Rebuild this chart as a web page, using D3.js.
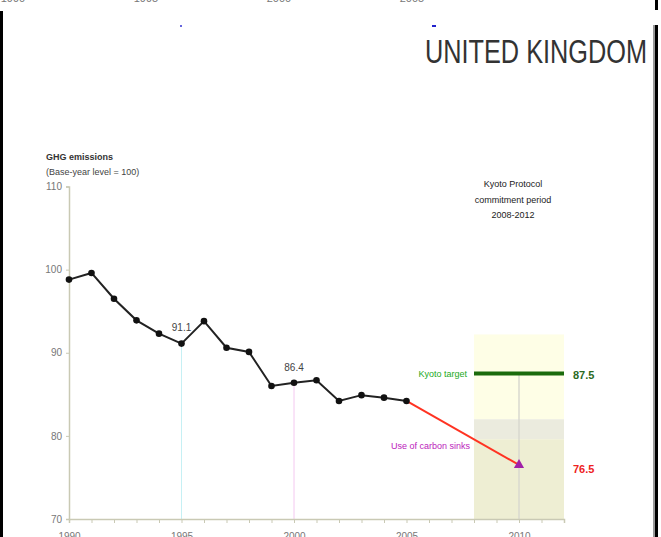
<!DOCTYPE html>
<html>
<head>
<meta charset="utf-8">
<script src="https://cdn.jsdelivr.net/npm/d3@7"></script>
<style>
  body { margin: 0; background: #fff; }
  svg { display: block; font-family: "Liberation Sans", Arial, sans-serif; }
</style>
</head>
<body>
<div id="chart"></div>
<script>
// emissions, base year = 100
var years = [1990, 1991, 1992, 1993, 1994, 1995, 1996, 1997, 1998, 1999, 2000, 2001, 2002, 2003, 2004, 2005];
var emissions = [98.8, 99.6, 96.5, 93.9, 92.3, 91.1, 93.8, 90.6, 90.1, 86.0, 86.4, 86.7, 84.2, 84.9, 84.6, 84.2];
var projYears = [2005, 2010];
var projValues = [84.2, 76.5];
var kyotoTarget = 87.5;
var periodStart = 2008, periodEnd = 2012;
var yTicks = [70, 80, 90, 100, 110];
var xTickLabels = [1990, 1995, 2000, 2005, 2010];
var topLabels = ["1990", "1995", "2000", "2005"];

var width = 661, height = 537;

var svg = d3.select("#chart").append("svg")
    .attr("width", width)
    .attr("height", height);

var x = d3.scaleLinear().domain([1990, 2012]).range([69, 564]);
var y = d3.scaleLinear().domain([70, 110]).range([519, 186.5]);

// frame bits from the slide
svg.append("rect").attr("x", 0).attr("y", 11).attr("width", 3).attr("height", height - 11).attr("fill", "#000");
svg.append("rect").attr("x", 655).attr("y", 0).attr("width", 3).attr("height", 10).attr("fill", "#000");
svg.append("rect").attr("x", 655).attr("y", 25).attr("width", 3).attr("height", height - 25).attr("fill", "#000");
svg.append("rect").attr("x", 653).attr("y", 25).attr("width", 2).attr("height", height - 25).attr("fill", "#999");
svg.append("rect").attr("x", 180).attr("y", 25).attr("width", 2).attr("height", 2).attr("fill", "#6666dd");
svg.append("rect").attr("x", 432).attr("y", 25).attr("width", 4).attr("height", 2).attr("fill", "#2222cc");

// cut-off labels from the chart above
svg.selectAll(".toplab")
    .data(topLabels)
    .enter()
    .append("text")
    .attr("x", function(d, i) { return 13 + i * 133; })
    .attr("y", 2)
    .attr("text-anchor", "middle")
    .attr("font-size", "11px")
    .attr("fill", "#777")
    .text(function(d) { return d; });

// title
svg.append("text")
    .attr("x", 425).attr("y", 63)
    .attr("font-size", "34px")
    .attr("textLength", 222)
    .attr("lengthAdjust", "spacingAndGlyphs")
    .attr("fill", "#333")
    .text("UNITED KINGDOM");

// commitment period shading
svg.append("rect")
    .attr("x", x(periodStart)).attr("y", y(92.2))
    .attr("width", x(periodEnd) - x(periodStart))
    .attr("height", y(82) - y(92.2))
    .attr("fill", "#fefee6");
svg.append("rect")
    .attr("x", x(periodStart)).attr("y", y(82))
    .attr("width", x(periodEnd) - x(periodStart))
    .attr("height", y(79.6) - y(82))
    .attr("fill", "#ebebde");
svg.append("rect")
    .attr("x", x(periodStart)).attr("y", y(79.6))
    .attr("width", x(periodEnd) - x(periodStart))
    .attr("height", y(70) - y(79.6))
    .attr("fill", "#eeeed3");

// drop lines
svg.append("line")
    .attr("x1", x(1995)).attr("x2", x(1995))
    .attr("y1", y(emissions[5])).attr("y2", y(70))
    .attr("stroke", "#c6f0f4").attr("stroke-width", 1);
svg.append("line")
    .attr("x1", x(2000)).attr("x2", x(2000))
    .attr("y1", y(emissions[10])).attr("y2", y(70))
    .attr("stroke", "#f4c8f0").attr("stroke-width", 1);
svg.append("line")
    .attr("x1", x(2010)).attr("x2", x(2010))
    .attr("y1", y(kyotoTarget)).attr("y2", y(70))
    .attr("stroke", "#d9d9cf").attr("stroke-width", 1.5);

// axes
var axisColor = "#c9c9b4";
var yAxis = svg.append("g")
    .attr("transform", "translate(" + x(1990) + ",0)")
    .call(d3.axisLeft(y).tickValues(yTicks).tickSize(3).tickPadding(4));
var xAxis = svg.append("g")
    .attr("transform", "translate(0," + y(70) + ")")
    .call(d3.axisBottom(x).ticks(22).tickSize(4).tickPadding(10)
        .tickFormat(function(d) { return xTickLabels.indexOf(d) >= 0 ? d : ""; }));
[yAxis, xAxis].forEach(function(a) {
    a.select(".domain").attr("stroke", axisColor).attr("stroke-width", 1.5);
    a.selectAll(".tick line").attr("stroke", axisColor);
    a.selectAll(".tick text").attr("fill", "#777").attr("font-size", "10px").attr("font-family", "Liberation Sans, Arial, sans-serif");
});

// axis title
svg.append("text")
    .attr("x", 46).attr("y", 160)
    .attr("font-size", "9px").attr("font-weight", "bold").attr("fill", "#333")
    .text("GHG emissions");
svg.append("text")
    .attr("x", 46).attr("y", 175)
    .attr("font-size", "9px").attr("fill", "#444")
    .text("(Base-year level = 100)");

// kyoto period caption
var cap = svg.append("text")
    .attr("text-anchor", "middle")
    .attr("font-size", "9px").attr("fill", "#222");
["Kyoto Protocol", "commitment period", "2008-2012"].forEach(function(t, i) {
    cap.append("tspan").attr("x", 513).attr("y", 187 + i * 15.5).text(t);
});

// projection
svg.append("path")
    .datum(d3.zip(projYears, projValues))
    .attr("fill", "none")
    .attr("stroke", "#ff3322")
    .attr("stroke-width", 2)
    .attr("d", d3.line().x(function(d) { return x(d[0]); }).y(function(d) { return y(d[1]); }));

// kyoto target line
svg.append("line")
    .attr("x1", x(periodStart)).attr("x2", x(periodEnd))
    .attr("y1", y(kyotoTarget)).attr("y2", y(kyotoTarget))
    .attr("stroke", "#1b6b0c").attr("stroke-width", 4);

// emissions line
var pts = d3.zip(years, emissions);
svg.append("path")
    .datum(pts)
    .attr("fill", "none")
    .attr("stroke", "#222")
    .attr("stroke-width", 2)
    .attr("d", d3.line().x(function(d) { return x(d[0]); }).y(function(d) { return y(d[1]); }));
svg.selectAll(".pt")
    .data(pts)
    .enter()
    .append("circle")
    .attr("cx", function(d) { return x(d[0]); })
    .attr("cy", function(d) { return y(d[1]); })
    .attr("r", 3.3)
    .attr("fill", "#111");

// projected point
svg.append("path")
    .attr("d", d3.symbol().type(d3.symbolTriangle).size(45))
    .attr("transform", "translate(" + x(projYears[1]) + "," + y(projValues[1]) + ")")
    .attr("fill", "#a020a8");

// value labels
svg.append("text")
    .attr("x", x(1995)).attr("y", y(emissions[5]) - 13)
    .attr("text-anchor", "middle").attr("font-size", "10px").attr("fill", "#444")
    .text(emissions[5].toFixed(1));
svg.append("text")
    .attr("x", x(2000)).attr("y", y(emissions[10]) - 12)
    .attr("text-anchor", "middle").attr("font-size", "10px").attr("fill", "#444")
    .text(emissions[10].toFixed(1));

svg.append("text")
    .attr("x", 467).attr("y", y(kyotoTarget) + 3)
    .attr("text-anchor", "end").attr("font-size", "9px").attr("fill", "#22aa22")
    .text("Kyoto target");
svg.append("text")
    .attr("x", 573).attr("y", y(kyotoTarget) + 5)
    .attr("font-size", "11px").attr("font-weight", "bold").attr("fill", "#2b6a1e")
    .text(kyotoTarget.toFixed(1));
svg.append("text")
    .attr("x", 470).attr("y", y(projValues[1]) - 16)
    .attr("text-anchor", "end").attr("font-size", "9px").attr("fill", "#bb22bb")
    .text("Use of carbon sinks");
svg.append("text")
    .attr("x", 573).attr("y", y(projValues[1]) + 8)
    .attr("font-size", "11px").attr("font-weight", "bold").attr("fill", "#ee2222")
    .text(projValues[1].toFixed(1));
</script>
</body>
</html>
